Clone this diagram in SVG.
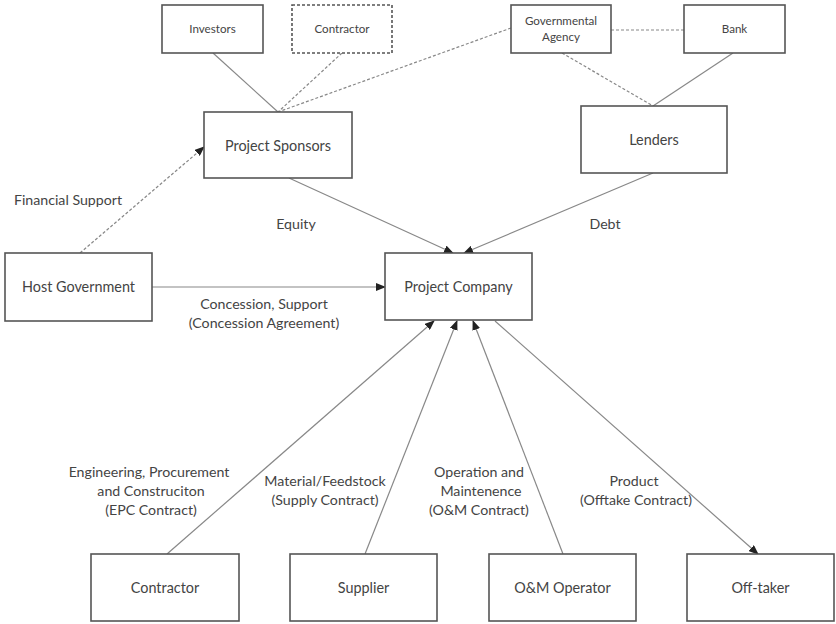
<svg xmlns="http://www.w3.org/2000/svg" width="836" height="624" viewBox="0 0 836 624">
<defs>
<marker id="ah" markerWidth="10" markerHeight="8" refX="9" refY="4" orient="auto" markerUnits="userSpaceOnUse">
<path d="M0,0 L10,4 L0,8 Z" fill="#222"/>
</marker>
<style>
.box{fill:#fff;stroke:#555;stroke-width:1.6}
.dbox{fill:#fff;stroke:#555;stroke-width:1.6;stroke-dasharray:3,2}
.ln{fill:none;stroke:#888;stroke-width:1.2}
.dl{fill:none;stroke:#888;stroke-width:1.2;stroke-dasharray:3,2}
.t{font-family:Lato,"Open Sans","Liberation Sans",sans-serif;font-size:14.4px;fill:#444;text-anchor:middle}
.ts{font-family:Lato,"Open Sans","Liberation Sans",sans-serif;font-size:11.6px;fill:#444;text-anchor:middle}
.lb{font-family:Lato,"Open Sans","Liberation Sans",sans-serif;font-size:14.2px;fill:#444;text-anchor:middle}
</style>
</defs>
<rect width="836" height="624" fill="#fff"/>
<g id="connectors">
<line class="ln" x1="213" y1="53" x2="278" y2="112"/>
<line class="dl" x1="342" y1="53" x2="278" y2="112"/>
<line class="dl" x1="511" y1="28" x2="278" y2="112"/>
<line class="dl" x1="611" y1="30" x2="684" y2="30"/>
<line class="dl" x1="562" y1="53" x2="653" y2="106"/>
<line class="ln" x1="733" y1="53" x2="653" y2="106"/>
<line class="dl" x1="80" y1="253" x2="204" y2="147" marker-end="url(#ah)"/>
<line class="ln" x1="289" y1="178" x2="453" y2="253" marker-end="url(#ah)"/>
<line class="ln" x1="653" y1="173" x2="464" y2="253" marker-end="url(#ah)"/>
<line class="ln" x1="152" y1="287" x2="385" y2="287" marker-end="url(#ah)"/>
<line class="ln" x1="167" y1="554" x2="434" y2="321" marker-end="url(#ah)"/>
<line class="ln" x1="365" y1="554" x2="457" y2="321" marker-end="url(#ah)"/>
<line class="ln" x1="563" y1="554" x2="473" y2="321" marker-end="url(#ah)"/>
<line class="ln" x1="495" y1="321" x2="758" y2="554" marker-end="url(#ah)"/>
</g>
<g id="labels">
<text class="lb" x="68" y="205">Financial Support</text>
<text class="lb" x="296" y="229">Equity</text>
<text class="lb" x="605" y="229">Debt</text>
<text class="lb" x="264" y="309">Concession, Support</text>
<text class="lb" x="264" y="328">(Concession Agreement)</text>
<text class="lb" x="149" y="477">Engineering, Procurement</text>
<text class="lb" x="151" y="496">and Construciton</text>
<text class="lb" x="151" y="515">(EPC Contract)</text>
<text class="lb" x="325" y="486">Material/Feedstock</text>
<text class="lb" x="325" y="505">(Supply Contract)</text>
<text class="lb" x="479" y="477">Operation and</text>
<text class="lb" x="481" y="496">Maintenence</text>
<text class="lb" x="479" y="515">(O&amp;M Contract)</text>
<text class="lb" x="634" y="486">Product</text>
<text class="lb" x="636" y="505">(Offtake Contract)</text>
</g>
<g id="investors"><rect class="box" x="162" y="5" width="101" height="48"/><text class="ts" x="212.5" y="33">Investors</text></g>
<g id="contractor-top"><rect class="dbox" x="292" y="5" width="100" height="48"/><text class="ts" x="342" y="33">Contractor</text></g>
<g id="gov-agency"><rect class="box" x="511" y="5" width="100" height="48"/><text class="ts" x="561" y="25">Governmental</text><text class="ts" x="561" y="41">Agency</text></g>
<g id="bank"><rect class="box" x="684" y="5" width="101" height="48"/><text class="ts" x="734.5" y="33">Bank</text></g>
<g id="sponsors"><rect class="box" x="204" y="112" width="148" height="66"/><text class="t" x="278" y="151">Project Sponsors</text></g>
<g id="lenders"><rect class="box" x="581" y="106" width="146" height="67"/><text class="t" x="654" y="145">Lenders</text></g>
<g id="host-gov"><rect class="box" x="5" y="253" width="147" height="68"/><text class="t" x="78.5" y="292">Host Government</text></g>
<g id="project-company"><rect class="box" x="385" y="253" width="147" height="67"/><text class="t" x="458.5" y="292">Project Company</text></g>
<g id="contractor"><rect class="box" x="91" y="554" width="148" height="67"/><text class="t" x="165" y="593">Contractor</text></g>
<g id="supplier"><rect class="box" x="290" y="554" width="147" height="67"/><text class="t" x="363.5" y="593">Supplier</text></g>
<g id="om-operator"><rect class="box" x="489" y="554" width="147" height="67"/><text class="t" x="562.5" y="593">O&amp;M Operator</text></g>
<g id="off-taker"><rect class="box" x="687" y="554" width="147" height="67"/><text class="t" x="760.5" y="593">Off-taker</text></g>
</svg>
